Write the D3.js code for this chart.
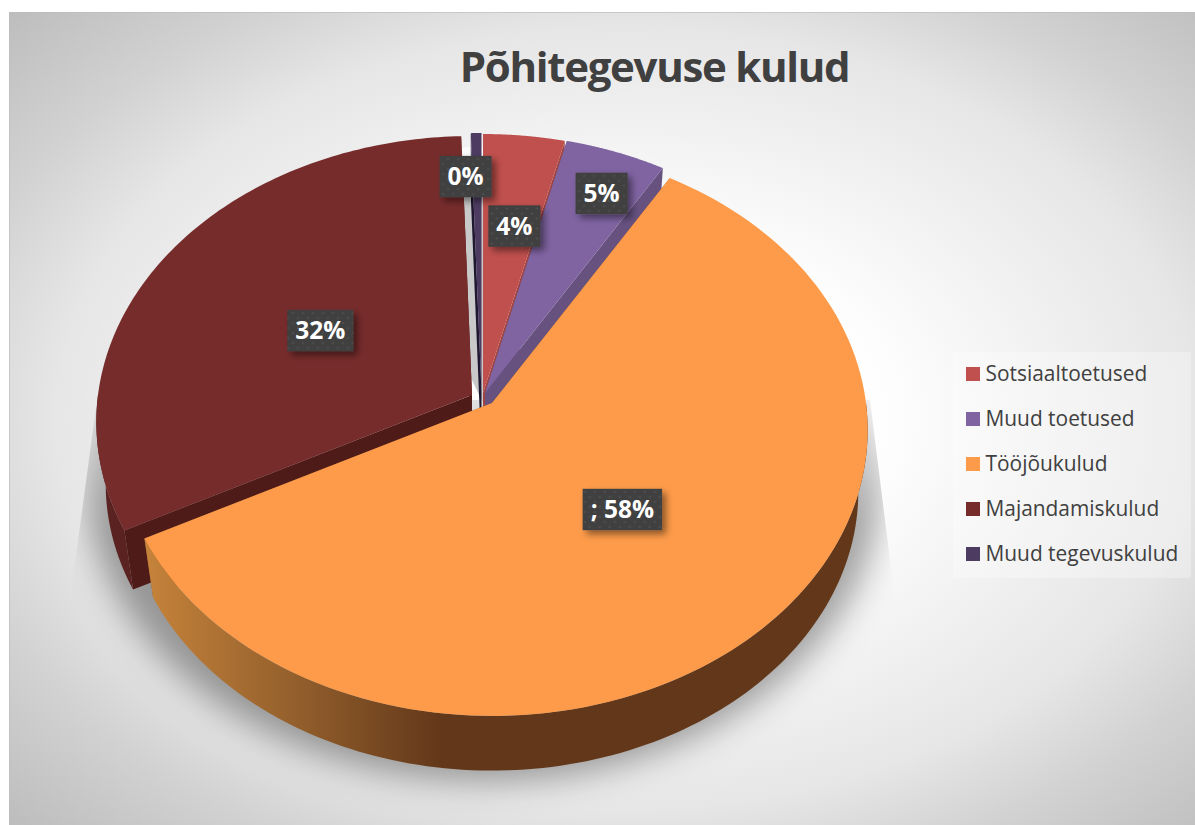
<!DOCTYPE html>
<html lang="et">
<head>
    <meta charset="UTF-8">
    <title>Põhitegevuse kulud</title>
    <script src="https://cdn.jsdelivr.net/npm/d3@7"></script>
    <style>
        html, body { margin: 0; background: #fff; }
        svg { display: block; }
        text { font-family: "Open Sans", sans-serif; }
    </style>
</head>
<body>
<script>
    const width = 1195;
    const height = 825;

    const titleText = 'Põhitegevuse kulud';
    const categories = ['Sotsiaaltoetused', 'Muud toetused', 'Tööjõukulud', 'Majandamiskulud', 'Muud tegevuskulud'];
    const values = [3.84, 4.75, 58.85, 32.06, 0.5];
    const labels = ['4%', '5%', '; 58%', '32%', '0%'];

    const topColors = ['#c0504d', '#8064a2', '#fd9b4a', '#772c2c', '#4d3b62'];
    const faceColors = ['#a14341', '#66517f', '#8a5a2b', '#4f1b19', '#1f1830'];
    const rimColors = ['#8f3d3b', '#66517f', 'url(#orangeSide)', '#5a2220', '#2c2238'];

    // tipp of each exploded slice
    const apexes = [[483, 393], [485, 393], [492, 403], [472, 395], [481.5, 392]];
    const labelRadius = [0.63, 0.825, 0.495, 0.475, 0.82];
    const labelShift = [1.2, 1.5, 0.3, -1.2, -2.3];   // degrees
    const drawOrder = [3, 4, 0, 1, 2];

    // perspective of the tilted disc
    const discA = 374, discB = 283.4, discK = 0.0943;
    const baseScale = 0.975, baseDrop = 62.5;

    const project = (apex, t, r, scale, drop) => {
        const u = r * Math.sin(t), v = r * Math.cos(t);
        const w = 1 + discK * v;
        return [apex[0] + scale * discA * u / w, apex[1] + drop - scale * discB * v / w];
    };

    const svg = d3.select('body').append('svg')
        .attr('width', width)
        .attr('height', height);
    const defs = svg.append('defs');

    // taust
    const bg = defs.append('radialGradient').attr('id', 'panelFill')
        .attr('cx', '0.52').attr('cy', '0.5').attr('r', '0.72');
    [[0, '#ffffff'], [0.3, '#fefefe'], [0.67, '#e6e6e6'], [0.81, '#d2d2d2'], [1, '#bdbdbd']].forEach(s => {
        bg.append('stop').attr('offset', s[0]).attr('stop-color', s[1]);
    });

    const side = defs.append('linearGradient').attr('id', 'orangeSide')
        .attr('gradientUnits', 'userSpaceOnUse')
        .attr('x1', 150).attr('x2', 440).attr('y1', 0).attr('y2', 0);
    [[0, '#c4823a'], [0.5, '#935f2c'], [1, '#63381a']].forEach(s => {
        side.append('stop').attr('offset', s[0]).attr('stop-color', s[1]);
    });

    const gap = defs.append('linearGradient').attr('id', 'gapFill')
        .attr('gradientUnits', 'userSpaceOnUse')
        .attr('x1', 0).attr('x2', 0).attr('y1', 185).attr('y2', 200);
    gap.append('stop').attr('offset', 0).attr('stop-color', '#fafafa');
    gap.append('stop').attr('offset', 1).attr('stop-color', '#c9c9c9');

    const fade = defs.append('linearGradient').attr('id', 'shadowFade')
        .attr('gradientUnits', 'userSpaceOnUse')
        .attr('x1', 0).attr('x2', 0).attr('y1', 370).attr('y2', 520);
    fade.append('stop').attr('offset', 0).attr('stop-color', '#000').attr('stop-opacity', 0.06);
    fade.append('stop').attr('offset', 1).attr('stop-color', '#000').attr('stop-opacity', 0.36);

    defs.append('filter').attr('id', 'shadowBlur')
        .attr('x', '-20%').attr('y', '-20%').attr('width', '140%').attr('height', '140%')
        .append('feGaussianBlur').attr('stdDeviation', 17);

    const boxShadow = defs.append('filter').attr('id', 'boxShadow')
        .attr('x', '-30%').attr('y', '-30%').attr('width', '170%').attr('height', '170%');
    boxShadow.append('feDropShadow')
        .attr('dx', 4).attr('dy', 4).attr('stdDeviation', 3.5)
        .attr('flood-color', '#000').attr('flood-opacity', 0.45);

    const dots = defs.append('pattern').attr('id', 'dots')
        .attr('patternUnits', 'userSpaceOnUse').attr('width', 10).attr('height', 10);
    dots.append('rect').attr('width', 10).attr('height', 10).attr('fill', '#404040');
    dots.append('circle').attr('cx', 2.5).attr('cy', 2.5).attr('r', 1.1).attr('fill', '#535353');
    dots.append('circle').attr('cx', 7.5).attr('cy', 7.5).attr('r', 1.1).attr('fill', '#535353');

    defs.append('clipPath').attr('id', 'shadowClip')
        .append('path').attr('d', 'M97,400L870,400L895,600L895,825L70,825L70,600Z');

    svg.append('rect')
        .attr('x', 9).attr('y', 12)
        .attr('width', width - 9).attr('height', height - 12)
        .attr('fill', 'url(#panelFill)');
    svg.append('path')
        .attr('d', `M9.5,${height}V12.5H${width}`)
        .attr('fill', 'none').attr('stroke', '#bdbdbd').attr('opacity', 0.7);

    svg.append('text')
        .attr('x', 654.5).attr('y', 82)
        .attr('text-anchor', 'middle')
        .attr('font-size', 42).attr('font-weight', 700)
        .attr('letter-spacing', -1.3)
        .attr('fill', '#404040')
        .text(titleText);

    // vari
    svg.append('g').attr('clip-path', 'url(#shadowClip)')
        .append('ellipse')
        .attr('cx', 484).attr('cy', 478).attr('rx', 398).attr('ry', 303)
        .attr('fill', 'url(#shadowFade)')
        .attr('filter', 'url(#shadowBlur)');

    const pie = d3.pie().sort(null).startAngle(0).endAngle(2 * Math.PI);
    const arcs = pie(values);
    const line = d3.line();
    const sweep = (a, b, scale, drop, apex) =>
        d3.range(0, 121).map(i => project(apex, a + (b - a) * i / 120, 1, scale, drop));

    // hall pilu kahe sektori vahel
    const gapApex = [apexes[4][0] + 3, apexes[4][1] + 14];
    svg.append('path')
        .attr('d', line([gapApex, ...sweep(-0.35, 0, 1, 0, gapApex)]) + 'Z')
        .attr('fill', 'url(#gapFill)');

    const sliceG = svg.append('g');
    drawOrder.forEach(i => {
        const d = arcs[i], apex = apexes[i];
        const baseApex = [apex[0], apex[1] + baseDrop];
        const topArc = sweep(d.startAngle, d.endAngle, 1, 0, apex);
        const baseArc = sweep(d.startAngle, d.endAngle, baseScale, baseDrop, apex);
        const g = sliceG.append('g').attr('class', 'slice');

        g.append('path')
            .attr('d', line([apex, baseApex, baseArc[0], topArc[0]]) + 'Z')
            .attr('fill', faceColors[i]);
        g.append('path')
            .attr('d', line([apex, baseApex, baseArc[120], topArc[120]]) + 'Z')
            .attr('fill', faceColors[i]);

        // only the near half of the rim can be seen
        const rimFrom = Math.max(d.startAngle, Math.PI / 2);
        const rimTo = Math.min(d.endAngle, 3 * Math.PI / 2);
        if (rimTo > rimFrom) {
            const rimTop = sweep(rimFrom, rimTo, 1, 0, apex);
            const rimBase = sweep(rimFrom, rimTo, baseScale, baseDrop, apex);
            g.append('path')
                .attr('d', line([...rimTop, ...rimBase.reverse()]) + 'Z')
                .attr('fill', rimColors[i]);
        }
        g.append('path')
            .attr('d', line([apex, ...topArc]) + 'Z')
            .attr('fill', topColors[i]);
    });

    // sildid
    const labelG = svg.append('g');
    arcs.forEach((d, i) => {
        const mid = (d.startAngle + d.endAngle) / 2 + labelShift[i] * Math.PI / 180;
        const p = project(apexes[i], mid, labelRadius[i], 1, 0);
        const g = labelG.append('g').attr('transform', `translate(${p[0]},${p[1]})`);
        const txt = g.append('text')
            .attr('text-anchor', 'middle')
            .attr('dy', '0.36em')
            .attr('font-size', 24.5).attr('font-weight', 700)
            .attr('fill', '#fff')
            .text(labels[i]);
        const w = txt.node().getComputedTextLength() + 16;
        g.insert('rect', 'text')
            .attr('x', -w / 2).attr('y', -20.7)
            .attr('width', w).attr('height', 41.4)
            .attr('fill', 'url(#dots)')
            .attr('filter', 'url(#boxShadow)');
    });

    // legend
    const legendY = d3.scalePoint().domain(categories).range([374, 554]);
    const legend = svg.append('g');
    legend.append('rect')
        .attr('x', 953).attr('y', 352)
        .attr('width', 238).attr('height', 226)
        .attr('fill', '#fff').attr('opacity', 0.3);
    const row = legend.selectAll('g').data(categories).enter().append('g')
        .attr('transform', d => `translate(966,${legendY(d)})`);
    row.append('rect')
        .attr('y', -7).attr('width', 14).attr('height', 14)
        .attr('fill', (d, i) => topColors[i]);
    row.append('text')
        .attr('x', 19.5)
        .attr('dy', '0.35em')
        .attr('font-size', 20.9)
        .attr('fill', '#404040')
        .text(d => d);
</script>
</body>
</html>
